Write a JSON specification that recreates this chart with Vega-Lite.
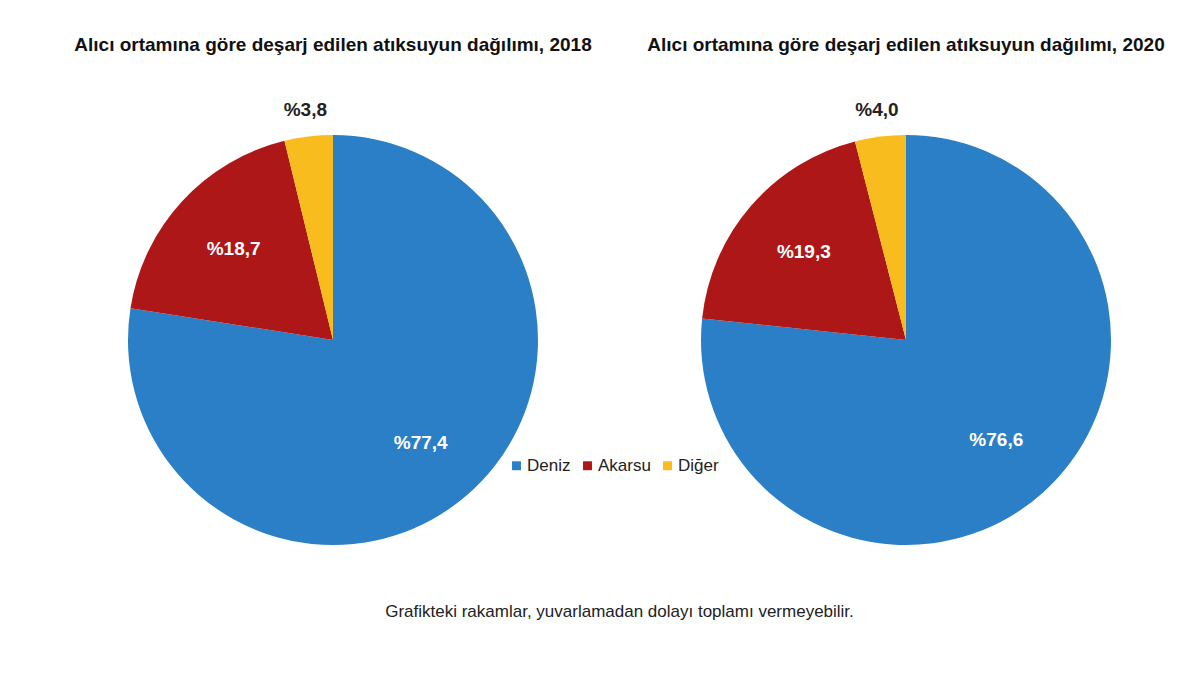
{
  "$schema": "https://vega.github.io/schema/vega-lite/v6.json",
  "background": "white",
  "padding": {"left": 53, "top": 35, "right": 5, "bottom": 5},
  "datasets": {
    "pie": [
      {"year": 2018, "category": "Deniz", "order": 1, "value": 77.4, "label": "%77,4"},
      {"year": 2018, "category": "Akarsu", "order": 2, "value": 18.7, "label": "%18,7"},
      {"year": 2018, "category": "Diğer", "order": 3, "value": 3.8, "label": "%3,8"},
      {"year": 2020, "category": "Deniz", "order": 1, "value": 76.6, "label": "%76,6"},
      {"year": 2020, "category": "Akarsu", "order": 2, "value": 19.3, "label": "%19,3"},
      {"year": 2020, "category": "Diğer", "order": 3, "value": 4.0, "label": "%4,0"}
    ]
  },
  "data": {"name": "pie"},
  "title": {
    "text": "Grafikteki rakamlar, yuvarlamadan dolayı toplamı vermeyebilir.",
    "orient": "bottom",
    "anchor": "middle",
    "fontSize": 17,
    "fontWeight": "normal",
    "font": "Liberation Sans, Arial",
    "color": "#222222",
    "offset": 39
  },
  "spacing": 13,
  "hconcat": [
    {
      "width": 560,
      "height": 450,
      "title": {"text": "Alıcı ortamına göre deşarj edilen atıksuyun dağılımı, 2018"},
      "transform": [{"filter": "datum.year == 2018"}],
      "encoding": {
        "theta": {"field": "value", "type": "quantitative", "stack": true},
        "order": {"field": "order", "type": "quantitative"},
        "color": {"field": "category", "type": "nominal", "title": null,
          "scale": {"domain": ["Deniz", "Akarsu", "Diğer"], "range": ["#2B7FC6", "#AE1717", "#F8BC1E"]}}
      },
      "layer": [
        {"mark": {"type": "arc", "outerRadius": 205}},
        {"mark": {"type": "text", "radius": 135, "fontSize": 19, "fontWeight": "bold", "font": "Liberation Sans, Arial"},
         "encoding": {"text": {"condition": {"test": "datum.category == 'Diğer'", "value": ""}, "field": "label"}, "color": {"value": "white"}}},
        {"mark": {"type": "text", "radius": 232, "fontSize": 19, "fontWeight": "bold", "font": "Liberation Sans, Arial"},
         "encoding": {"text": {"condition": {"test": "datum.category != 'Diğer'", "value": ""}, "field": "label"}, "color": {"value": "#222222"}}}
      ]
    },
    {
      "width": 560,
      "height": 450,
      "title": {"text": "Alıcı ortamına göre deşarj edilen atıksuyun dağılımı, 2020"},
      "transform": [{"filter": "datum.year == 2020"}],
      "encoding": {
        "theta": {"field": "value", "type": "quantitative", "stack": true},
        "order": {"field": "order", "type": "quantitative"},
        "color": {"field": "category", "type": "nominal", "title": null,
          "scale": {"domain": ["Deniz", "Akarsu", "Diğer"], "range": ["#2B7FC6", "#AE1717", "#F8BC1E"]}}
      },
      "layer": [
        {"mark": {"type": "arc", "outerRadius": 205}},
        {"mark": {"type": "text", "radius": 135, "fontSize": 19, "fontWeight": "bold", "font": "Liberation Sans, Arial"},
         "encoding": {"text": {"condition": {"test": "datum.category == 'Diğer'", "value": ""}, "field": "label"}, "color": {"value": "white"}}},
        {"mark": {"type": "text", "radius": 232, "fontSize": 19, "fontWeight": "bold", "font": "Liberation Sans, Arial"},
         "encoding": {"text": {"condition": {"test": "datum.category != 'Diğer'", "value": ""}, "field": "label"}, "color": {"value": "#222222"}}}
      ]
    }
  ],
  "config": {
    "view": {"stroke": null},
    "title": {"fontSize": 19, "fontWeight": "bold", "font": "Liberation Sans, Arial", "color": "#111111", "offset": 46, "anchor": "middle"},
    "legend": {
      "orient": "none",
      "legendX": 455,
      "legendY": 342,
      "direction": "horizontal",
      "symbolType": "square",
      "symbolSize": 80,
      "symbolStrokeWidth": 0,
      "labelFontSize": 17,
      "labelFont": "Liberation Sans, Arial",
      "labelColor": "#222222",
      "columnPadding": 8,
      "labelOffset": 2
    }
  }
}
